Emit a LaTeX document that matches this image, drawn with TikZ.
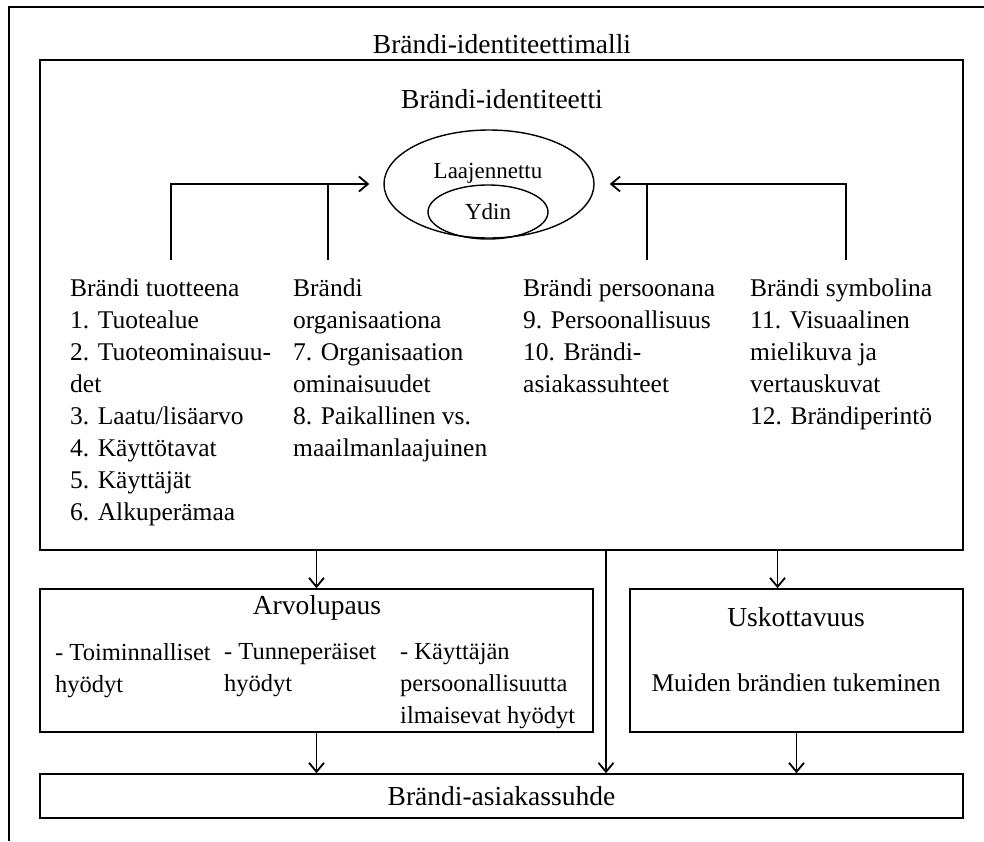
\documentclass[tikz,border=0pt]{standalone}
\usepackage{fontspec}
\setmainfont{Liberation Serif}
\usetikzlibrary{arrows.meta, positioning, shapes.geometric}
\tikzset{
	boxline/.style={draw, line width=1.6pt, inner sep=0pt}
}
\tikzset{
	bodytext/.style={font=\fontsize{25.5}{32}\selectfont, align=left, inner sep=0pt}
}
\tikzset{
	benefittext/.style={bodytext, font=\fontsize{24.5}{32}\selectfont, anchor=north west}
}
\tikzset{
	headtext/.style={font=\fontsize{27.5}{32}\selectfont}
}
\tikzset{
	smalltext/.style={font=\fontsize{23}{26}\selectfont, inner sep=0pt}
}
\tikzset{
	arr/.style={line width=1.4pt, -{Straight Barb[length=9pt,width=15pt,line width=1.8pt]}}
}

\begin{document}
\begin{tikzpicture}[x=1pt, y=-1pt]
      \useasboundingbox (0,0) rectangle (984,841);
      % outer frame (cut off at right and bottom)
      \draw[line width=1.6pt] (9,841) -- (9,7) -- (984,7);
      \node[headtext] (title) at (502,44) {Brändi-identiteettimalli};

      % brand identity
      \node[boxline, minimum width=923pt, minimum height=490pt] (ident) at (501.5,305) {};
      \node[headtext] (identlabel) at (502,99) {Brändi-identiteetti};
      \node[ellipse, draw, line width=1.4pt, minimum width=210pt, minimum height=108pt] (ext) at (489,184) {};
      \node[ellipse, draw, line width=1.4pt, minimum width=120pt, minimum height=54pt] (core) at (488,212) {};
      \node[smalltext] (extlabel) at (488,173) {Laajennettu};
      \node[smalltext] (corelabel) at (core) {Ydin};

      \node[bodytext, anchor=north west] (col1) at (70,279) {Brändi tuotteena\\1. Tuotealue\\2. Tuoteominaisuu-\\det\\3. Laatu/lisäarvo\\4. Käyttötavat\\5. Käyttäjät\\6. Alkuperämaa};
      \node[bodytext, anchor=north west] (col2) at (293,279) {Brändi\\organisaationa\\7. Organisaation\\ominaisuudet\\8. Paikallinen vs.\\maailmanlaajuinen};
      \node[bodytext, anchor=north west] (col3) at (523,279) {Brändi persoonana\\9. Persoonallisuus\\10. Brändi-\\asiakassuhteet};
      \node[bodytext, anchor=north west] (col4) at (750,279) {Brändi symbolina\\11. Visuaalinen\\mielikuva ja\\vertauskuvat\\12. Brändiperintö};

      \foreach \n/\x in {p1/171, p2/328, p3/647, p4/846}
        \coordinate (\n) at (\x,260);
      \draw[arr] (p1) |- ([xshift=-14pt]ext.west);
      \draw[line width=1.4pt] (p2) -- (p2 |- ext.west);
      \draw[arr] (p4) |- ([xshift=15pt]ext.east);
      \draw[line width=1.4pt] (p3) -- (p3 |- ext.west);

      % value proposition and credibility
      \node[boxline, minimum width=553pt, minimum height=143pt] (arvo) at (316.5,660.5) {};
      \node[headtext] (arvolabel) at (317,608) {Arvolupaus};
      \node[benefittext] (benefit1) at (55,643) {- Toiminnalliset\\hyödyt};
      \node[benefittext] (benefit2) at (224,643) {- Tunneperäiset\\hyödyt};
      \node[benefittext] (benefit3) at (400,643) {- Käyttäjän\\persoonallisuutta\\ilmaisevat hyödyt};

      \node[boxline, minimum width=333pt, minimum height=143pt] (usk) at (796.5,660.5) {};
      \node[headtext] (usklabel) at (796,617) {Uskottavuus};
      \node[bodytext] (support) at (796,683) {Muiden brändien tukeminen};

      \node[boxline, headtext, minimum width=923pt, minimum height=44pt] (brel) at (501.5,796) {Brändi-asiakassuhde};

      \coordinate (mid) at (606,0);
      \draw[arr] (ident.south -| arvo.north) -- (arvo.north);
      \draw[arr] ([xshift=-19pt]usk.north |- ident.south) -- ([xshift=-19pt]usk.north);
      \draw[arr] (ident.south -| mid) -- (brel.north -| mid);
      \draw[arr] (arvo.south) -- (arvo.south |- brel.north);
      \draw[arr] (usk.south) -- (usk.south |- brel.north);
    \end{tikzpicture}
\end{document}
